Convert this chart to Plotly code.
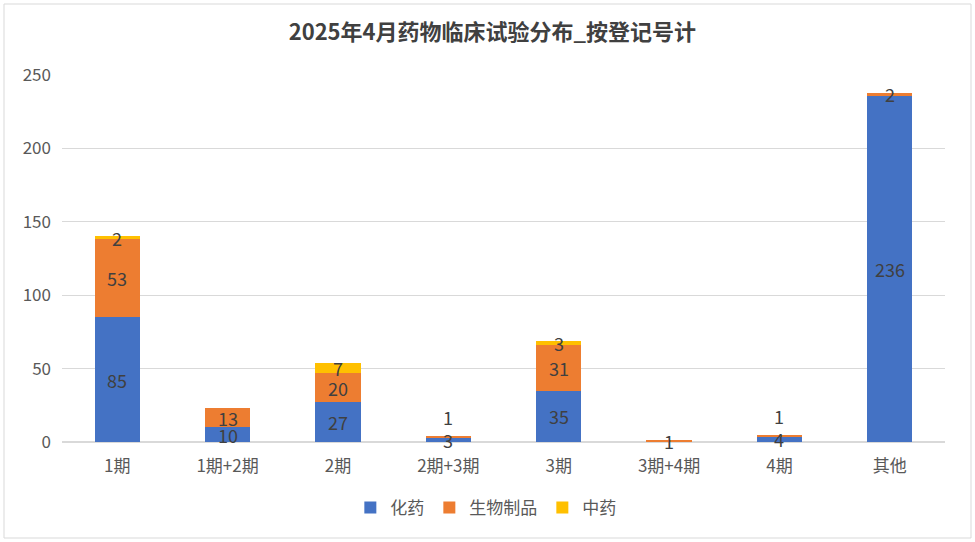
import plotly.graph_objects as go

categories = ["1期", "1期+2期", "2期", "2期+3期", "3期", "3期+4期", "4期", "其他"]
chem = [85, 10, 27, 3, 35, 0, 4, 236]
bio = [53, 13, 20, 1, 31, 1, 1, 2]
tcm = [2, 0, 7, 0, 3, 0, 0, 0]
series_names = ["化药", "生物制品", "中药"]
colors = ["#4472C4", "#ED7D31", "#FFC000"]
# labels lifted above the bar (as in the original chart)
lifted = {("生物制品", "2期+3期"), ("生物制品", "4期")}

FONT = "Noto Sans CJK SC, Microsoft YaHei, sans-serif"
fig = go.Figure()
for name, vals, col in zip(series_names, [chem, bio, tcm], colors):
    fig.add_trace(go.Bar(x=categories, y=vals, name=name, marker_color=col,
                         marker_line_width=0, width=0.41))

annotations = []
base = [0] * len(categories)
for name, vals in zip(series_names, [chem, bio, tcm]):
    for i, v in enumerate(vals):
        if v > 0:
            total = chem[i] + bio[i] + tcm[i]
            y = total + 13 if (name, categories[i]) in lifted else base[i] + v / 2
            annotations.append(dict(x=categories[i], y=y, text=str(v), showarrow=False,
                                    font=dict(size=18, color="#404040", family=FONT),
                                    xref="x", yref="y"))
        base[i] += v

fig.update_layout(
    width=975, height=542,
    margin=dict(l=62, r=30, t=75, b=100, autoexpand=False),
    barmode="stack",
    paper_bgcolor="white", plot_bgcolor="white",
    font=dict(family=FONT, color="#595959"),
    title=dict(text="<b>2025年4月药物临床试验分布_按登记号计</b>", x=0.505, xanchor="center",
               y=0.94, yanchor="middle", font=dict(size=22, color="#404040", family=FONT)),
    legend=dict(orientation="h", x=0.48, xanchor="center", y=-0.18, yanchor="middle",
                font=dict(size=17, color="#595959"), traceorder="normal",
                itemwidth=30),
    annotations=annotations,
)
fig.update_yaxes(range=[0, 250], dtick=50, showgrid=True, gridcolor="#D9D9D9", gridwidth=1,
                 zeroline=True, zerolinecolor="#D9D9D9", tickfont=dict(size=17, color="#595959"),
                 ticks="", showline=False, ticklabelstandoff=10, automargin=False)
fig.update_xaxes(tickfont=dict(size=17, color="#595959"), showline=True, linecolor="#D9D9D9",
                 ticks="", ticklabelstandoff=9, automargin=False)
fig.add_shape(type="rect", xref="paper", yref="paper",
              x0=-58 / 883, x1=(883 + 26) / 883, y0=-96 / 367, y1=(367 + 71) / 367,
              line=dict(color="#D9D9D9", width=1), fillcolor="rgba(0,0,0,0)")
fig.write_html("out.html")
